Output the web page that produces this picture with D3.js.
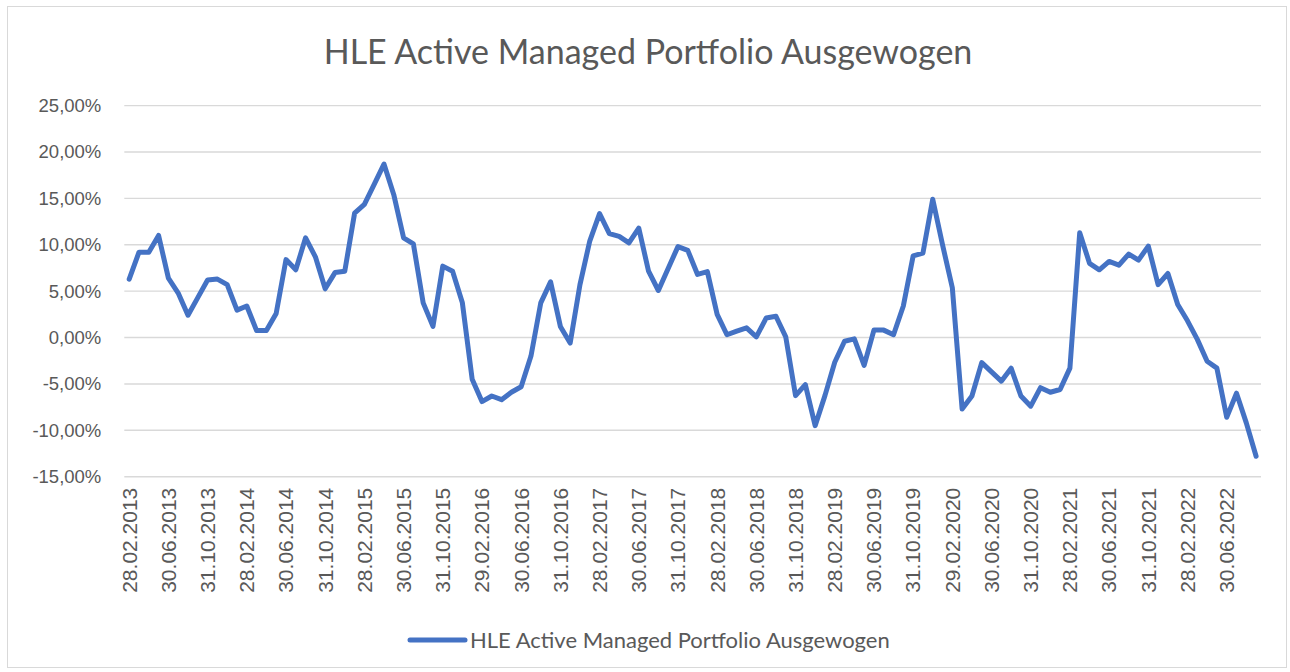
<!DOCTYPE html>
<html><head><meta charset="utf-8">
<script src="https://cdn.jsdelivr.net/npm/d3@7"></script>
<style>html,body{margin:0;padding:0;background:#fff;} svg{display:block;}</style>
</head><body>
<svg id="chart" width="1290" height="672"></svg>
<script>
// ---------- data ----------
const chartTitle = "HLE Active Managed Portfolio Ausgewogen";
const seriesName = "HLE Active Managed Portfolio Ausgewogen";
const firstMonth = "2013-02-01";   // monthly month-end categories
const lastMonth  = "2022-09-01";
const values = [
  6.3, 9.2, 9.2, 11.0, 6.4, 4.8, 2.4, 4.3, 6.2, 6.3, 5.7, 2.95,
  3.4, 0.75, 0.75, 2.6, 8.4, 7.3, 10.75, 8.7, 5.25, 7.0, 7.15, 13.4,
  14.35, 16.5, 18.7, 15.4, 10.75, 10.1, 3.74, 1.2, 7.7, 7.15, 3.74, -4.5,
  -6.9, -6.3, -6.7, -5.9, -5.3, -2.0, 3.74, 6.0, 1.2, -0.6, 5.7, 10.4,
  13.35, 11.2, 10.9, 10.2, 11.8, 7.15, 5.07, 7.45, 9.8, 9.4, 6.8, 7.1,
  2.5, 0.3, 0.7, 1.05, 0.07, 2.1, 2.3, 0.07, -6.26, -5.07, -9.5, -6.26,
  -2.66, -0.4, -0.14, -3.0, 0.8, 0.8, 0.3, 3.4, 8.8, 9.1, 14.9, 10.0,
  5.36, -7.7, -6.3, -2.7, -3.7, -4.7, -3.3, -6.3, -7.4, -5.4, -5.9, -5.6,
  -3.3, 11.3, 8.0, 7.3, 8.2, 7.8, 9.0, 8.35, 9.85, 5.7, 6.9, 3.56,
  1.8, -0.2, -2.55, -3.3, -8.6, -6.0, -9.2, -12.8
];
const yTicks = [-15, -10, -5, 0, 5, 10, 15, 20, 25];
const xTickLabels = [
  "28.02.2013","30.06.2013","31.10.2013","28.02.2014","30.06.2014","31.10.2014",
  "28.02.2015","30.06.2015","31.10.2015","29.02.2016","30.06.2016","31.10.2016",
  "28.02.2017","30.06.2017","31.10.2017","28.02.2018","30.06.2018","31.10.2018",
  "28.02.2019","30.06.2019","31.10.2019","29.02.2020","30.06.2020","31.10.2020",
  "28.02.2021","30.06.2021","31.10.2021","28.02.2022","30.06.2022"
];

// ---------- categories (month-end dates) ----------
const fmtDate = d3.utcFormat("%d.%m.%Y");
const months = d3.utcMonth.range(new Date(firstMonth), d3.utcMonth.offset(new Date(lastMonth), 1));
const categories = months.map(m => fmtDate(d3.utcDay.offset(d3.utcMonth.offset(m, 1), -1)));
const data = categories.map((c, i) => ({ c, v: values[i] }));

// ---------- layout ----------
const svg = d3.select("#chart");
const W = 1290, H = 672;
const plot = { left: 124.3, right: 1261, top: 105.6, bottom: 476.7 };
const textColor = "#595959";
const gridColor = "#d9d9d9";
const lineColor = "#4472C4";

svg.append("rect").attr("x", 0).attr("y", 0).attr("width", W).attr("height", H).attr("fill", "#fff");
svg.append("rect").attr("x", 7.5).attr("y", 6.5).attr("width", 1279).attr("height", 661)
  .attr("fill", "none").attr("stroke", gridColor).attr("stroke-width", 1);

const x = d3.scaleBand().domain(categories).range([plot.left, plot.right]).padding(0);
const y = d3.scaleLinear().domain([-15, 25]).range([plot.bottom, plot.top]);

const de = d3.formatLocale({ decimal: ",", thousands: ".", grouping: [3], currency: ["", "€"], minus: "-" });
const fmtPct = v => de.format(".2f")(v) + "%";

// gridlines
svg.append("g").selectAll("line").data(yTicks).join("line")
  .attr("x1", plot.left).attr("x2", plot.right)
  .attr("y1", d => y(d)).attr("y2", d => y(d))
  .attr("stroke", gridColor).attr("stroke-width", 1.4);

// y axis
const gy = svg.append("g").attr("transform", `translate(${plot.left},0)`)
  .call(d3.axisLeft(y).tickValues(yTicks).tickSize(0).tickPadding(23).tickFormat(fmtPct));
gy.select(".domain").remove();
gy.selectAll("text").attr("fill", textColor)
  .style("font-family", "'Liberation Sans', Arial, sans-serif").style("font-size", "18.5px");

// x axis
const gx = svg.append("g").attr("transform", `translate(0,${plot.bottom})`)
  .call(d3.axisBottom(x).tickValues(xTickLabels).tickSize(0));
gx.select(".domain").remove();
gx.selectAll("text").attr("fill", textColor)
  .style("font-family", "'Liberation Sans', Arial, sans-serif").style("font-size", "21px")
  .attr("transform", "rotate(-90)").attr("x", -11).attr("y", 0).attr("dy", "0.35em")
  .style("text-anchor", "end");

// line
const line = d3.line().x(d => x(d.c) + x.bandwidth() / 2).y(d => y(d.v));
svg.append("path").datum(data).attr("d", line)
  .attr("fill", "none").attr("stroke", lineColor).attr("stroke-width", 5)
  .attr("stroke-linejoin", "round").attr("stroke-linecap", "round");

// title
svg.append("text").attr("x", 648).attr("y", 64).attr("text-anchor", "middle")
  .attr("fill", textColor).style("font-family", "Lato, 'Open Sans', sans-serif")
  .style("font-size", "34px").text(chartTitle);

// legend
const lg = svg.append("g");
lg.append("line").attr("x1", 410).attr("x2", 465).attr("y1", 640).attr("y2", 640)
  .attr("stroke", lineColor).attr("stroke-width", 5).attr("stroke-linecap", "round");
lg.append("text").attr("x", 470).attr("y", 647.5).attr("fill", textColor)
  .style("font-family", "Lato, 'Open Sans', sans-serif").style("font-size", "22px").text(seriesName);
</script>
</body></html>
